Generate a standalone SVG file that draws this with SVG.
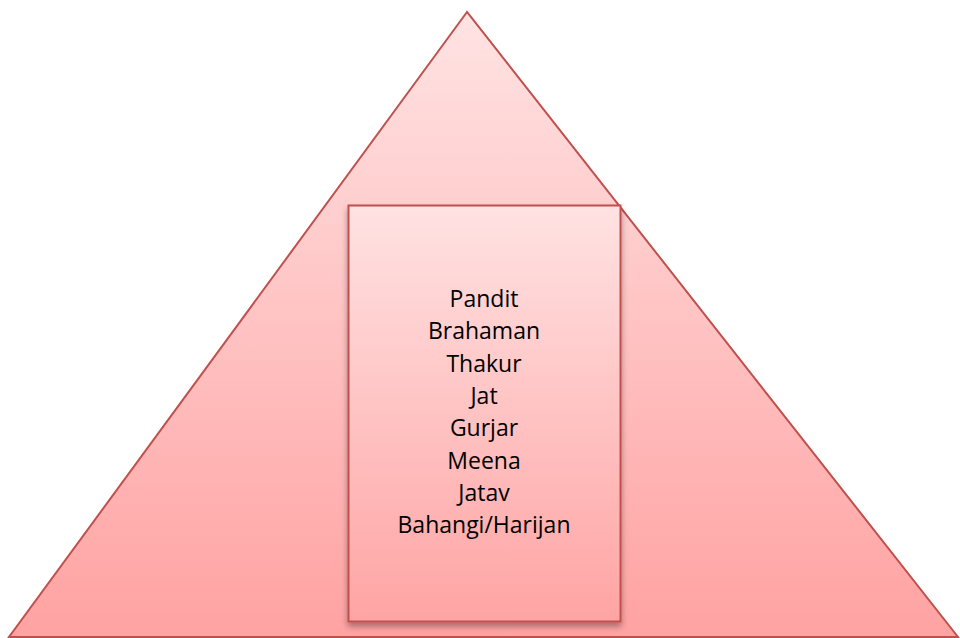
<svg xmlns="http://www.w3.org/2000/svg" width="960" height="638" viewBox="0 0 960 638">
<defs>
<linearGradient id="gTri" x1="0" y1="0" x2="0" y2="1">
<stop offset="0" stop-color="#ffe3e3"/>
<stop offset="1" stop-color="#ffa2a2"/>
</linearGradient>
<linearGradient id="gBox" x1="0" y1="0" x2="0" y2="1">
<stop offset="0" stop-color="#ffe2e2"/>
<stop offset="1" stop-color="#ffa4a4"/>
</linearGradient>
<filter id="sh" x="-10%" y="-10%" width="120%" height="120%">
<feGaussianBlur in="SourceAlpha" stdDeviation="3"/>
<feOffset dx="0" dy="4"/>
<feComponentTransfer><feFuncA type="linear" slope="0.35"/></feComponentTransfer>
<feMerge><feMergeNode/><feMergeNode in="SourceGraphic"/></feMerge>
</filter>
</defs>
<style>
.shape{stroke:#c0504d;stroke-width:2}
.t{font-family:"Open Sans","Liberation Sans",sans-serif;font-size:23px;fill:#000;text-anchor:middle}
</style>
<g id="pyramid">
<polygon class="shape" points="467,12 9,637 958,637" fill="url(#gTri)"/>
</g>
<g id="box">
<rect class="shape" x="348.5" y="205.5" width="272" height="416" fill="url(#gBox)" filter="url(#sh)"/>
<text class="t" x="484" y="307">Pandit</text>
<text class="t" x="484" y="339">Brahaman</text>
<text class="t" x="484" y="372">Thakur</text>
<text class="t" x="484" y="404">Jat</text>
<text class="t" x="484" y="436">Gurjar</text>
<text class="t" x="484" y="469">Meena</text>
<text class="t" x="484" y="501">Jatav</text>
<text class="t" x="484" y="533">Bahangi/Harijan</text>
</g>
<g id="connectors"/>
</svg>
